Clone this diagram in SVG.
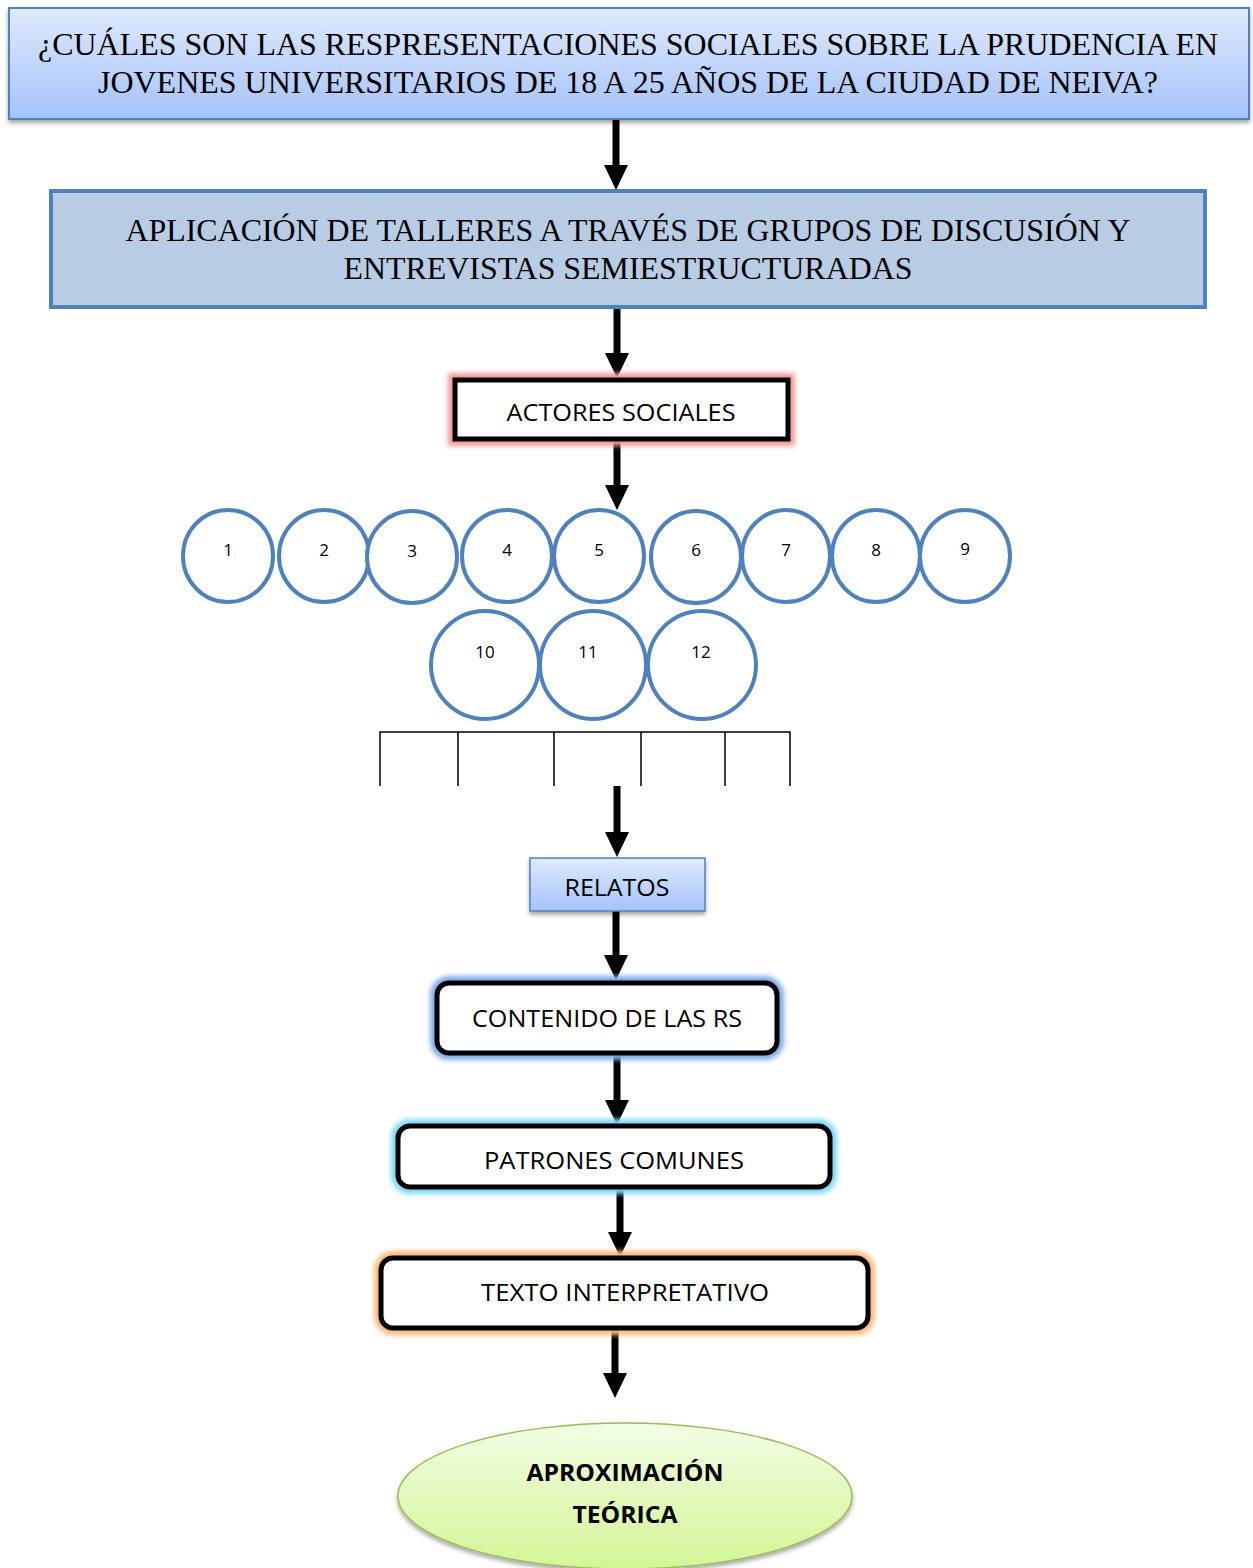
<svg xmlns="http://www.w3.org/2000/svg" width="1253" height="1568" viewBox="0 0 1253 1568">
<style>
.serif{font-family:"Liberation Serif","Times New Roman",serif;font-size:31px;fill:#000}
.sans{font-family:"Open Sans","Liberation Sans",sans-serif;font-size:24px;fill:#000}
.num{font-family:"Open Sans","Liberation Sans",sans-serif;font-size:17px;fill:#000}
.circ{fill:#fff;stroke:#4f81bd;stroke-width:4}
.blk{fill:#fff;stroke:#000;stroke-width:5}
.conn{stroke:#000;stroke-width:7;fill:none}
.thin{stroke:#000;stroke-width:1.5;fill:none}
</style>
<defs>
<linearGradient id="gBlue" x1="0" y1="0" x2="0" y2="1">
<stop offset="0" stop-color="#dfeafd"/>
<stop offset="1" stop-color="#a5c2fa"/>
</linearGradient>
<linearGradient id="gGreen" x1="0" y1="0" x2="0" y2="1">
<stop offset="0" stop-color="#f3fde6"/>
<stop offset="1" stop-color="#d3f595"/>
</linearGradient>
<filter id="shadow" x="-5%" y="-20%" width="110%" height="150%">
<feDropShadow dx="0" dy="3" stdDeviation="2" flood-color="#000" flood-opacity="0.35"/>
</filter>
<filter id="glow" x="-10%" y="-40%" width="120%" height="180%">
<feGaussianBlur stdDeviation="2.5"/>
</filter>
<marker id="ah" viewBox="0 0 25 24" markerWidth="25" markerHeight="24" refX="2" refY="12" orient="auto" markerUnits="userSpaceOnUse">
<path d="M0,0 L25,12 L0,24 z" fill="#000"/>
</marker>
</defs>
<rect width="1253" height="1568" fill="#fff"/>

<g id="connectors">
<line class="conn" x1="616" y1="120" x2="616" y2="167" marker-end="url(#ah)"/>
<line class="conn" x1="617" y1="308" x2="617" y2="355" marker-end="url(#ah)"/>
<line class="conn" x1="617" y1="440" x2="617" y2="487" marker-end="url(#ah)"/>
<path class="thin" d="M380,786 V732 H790 V786 M458,732 V786 M554,732 V786 M641,732 V786 M725,732 V786"/>
<line class="conn" x1="617" y1="786" x2="617" y2="834" marker-end="url(#ah)"/>
<line class="conn" x1="616" y1="911" x2="616" y2="957" marker-end="url(#ah)"/>
<line class="conn" x1="617" y1="1053" x2="617" y2="1102" marker-end="url(#ah)"/>
<line class="conn" x1="620" y1="1187" x2="620" y2="1234" marker-end="url(#ah)"/>
<line class="conn" x1="615" y1="1328" x2="615" y2="1375" marker-end="url(#ah)"/>
</g>

<g id="n-pregunta">
<rect x="9" y="8" width="1240" height="111" fill="url(#gBlue)" stroke="#4f81bd" stroke-width="2" filter="url(#shadow)"/>
<text class="serif" x="628" y="55" text-anchor="middle" textLength="1180" lengthAdjust="spacingAndGlyphs">¿CUÁLES SON LAS RESPRESENTACIONES SOCIALES SOBRE LA PRUDENCIA EN</text>
<text class="serif" x="628" y="93" text-anchor="middle" textLength="1060" lengthAdjust="spacingAndGlyphs">JOVENES UNIVERSITARIOS DE 18 A 25 AÑOS DE LA CIUDAD DE NEIVA?</text>
</g>

<g id="n-aplicacion">
<rect x="51" y="191" width="1154" height="116" fill="#b8cce4" stroke="#4f81bd" stroke-width="4"/>
<text class="serif" x="628" y="241" text-anchor="middle" font-size="32" textLength="1005" lengthAdjust="spacingAndGlyphs">APLICACIÓN DE TALLERES A TRAVÉS DE GRUPOS DE DISCUSIÓN Y</text>
<text class="serif" x="628" y="279" text-anchor="middle" font-size="32" textLength="569" lengthAdjust="spacingAndGlyphs">ENTREVISTAS SEMIESTRUCTURADAS</text>
</g>

<g id="n-actores">
<rect x="455" y="380" width="333" height="59" fill="none" stroke="#f09a9a" stroke-width="14" filter="url(#glow)"/>
<rect class="blk" x="455" y="380" width="333" height="59"/>
<text class="sans" x="621" y="421" text-anchor="middle" textLength="229" lengthAdjust="spacingAndGlyphs">ACTORES SOCIALES</text>
</g>

<g id="n-1"><ellipse class="circ" cx="228" cy="556" rx="45" ry="46"/><text class="num" x="228" y="556" text-anchor="middle">1</text></g>
<g id="n-2"><ellipse class="circ" cx="324" cy="556" rx="45" ry="46"/><text class="num" x="324" y="556" text-anchor="middle">2</text></g>
<g id="n-3"><ellipse class="circ" cx="412" cy="557" rx="45" ry="46"/><text class="num" x="412" y="557" text-anchor="middle">3</text></g>
<g id="n-4"><ellipse class="circ" cx="507" cy="556" rx="45" ry="46"/><text class="num" x="507" y="556" text-anchor="middle">4</text></g>
<g id="n-5"><ellipse class="circ" cx="599" cy="556" rx="45" ry="46"/><text class="num" x="599" y="556" text-anchor="middle">5</text></g>
<g id="n-6"><ellipse class="circ" cx="696" cy="557" rx="45" ry="46"/><text class="num" x="696" y="556" text-anchor="middle">6</text></g>
<g id="n-7"><ellipse class="circ" cx="786" cy="556" rx="44" ry="46"/><text class="num" x="786" y="556" text-anchor="middle">7</text></g>
<g id="n-8"><ellipse class="circ" cx="876" cy="556" rx="44" ry="46"/><text class="num" x="876" y="556" text-anchor="middle">8</text></g>
<g id="n-9"><ellipse class="circ" cx="965" cy="556" rx="45" ry="46"/><text class="num" x="965" y="555" text-anchor="middle">9</text></g>
<g id="n-10"><ellipse class="circ" cx="485" cy="665" rx="54" ry="54"/><text class="num" x="485" y="658" text-anchor="middle">10</text></g>
<g id="n-11"><ellipse class="circ" cx="593" cy="665" rx="53" ry="54"/><text class="num" x="588" y="658" text-anchor="middle">11</text></g>
<g id="n-12"><ellipse class="circ" cx="702" cy="665" rx="54" ry="54"/><text class="num" x="701" y="658" text-anchor="middle">12</text></g>

<g id="n-relatos">
<rect x="530" y="858" width="175" height="53" fill="url(#gBlue)" stroke="#4f81bd" stroke-width="1.5" filter="url(#shadow)"/>
<text class="sans" x="617" y="896" text-anchor="middle" textLength="105" lengthAdjust="spacingAndGlyphs">RELATOS</text>
</g>

<g id="n-contenido">
<rect x="437" y="983" width="340" height="70" rx="12" fill="none" stroke="#80aae6" stroke-width="14" filter="url(#glow)"/>
<rect class="blk" x="437" y="983" width="340" height="70" rx="12"/>
<text class="sans" x="607" y="1027" text-anchor="middle" textLength="270" lengthAdjust="spacingAndGlyphs">CONTENIDO DE LAS RS</text>
</g>

<g id="n-patrones">
<rect x="398" y="1126" width="432" height="61" rx="12" fill="none" stroke="#7ad8f5" stroke-width="14" filter="url(#glow)"/>
<rect class="blk" x="398" y="1126" width="432" height="61" rx="12"/>
<text class="sans" x="614" y="1169" text-anchor="middle" textLength="260" lengthAdjust="spacingAndGlyphs">PATRONES COMUNES</text>
</g>

<g id="n-texto">
<rect x="381" y="1258" width="487" height="70" rx="12" fill="none" stroke="#fbb877" stroke-width="14" filter="url(#glow)"/>
<rect class="blk" x="381" y="1258" width="487" height="70" rx="12"/>
<text class="sans" x="625" y="1301" text-anchor="middle" textLength="288" lengthAdjust="spacingAndGlyphs">TEXTO INTERPRETATIVO</text>
</g>

<g id="n-aproximacion">
<ellipse cx="625" cy="1496" rx="227" ry="73" fill="url(#gGreen)" stroke="#9bbb59" stroke-width="1.5" filter="url(#shadow)"/>
<text class="sans" x="625" y="1481" text-anchor="middle" font-weight="bold" textLength="197" lengthAdjust="spacingAndGlyphs">APROXIMACIÓN</text>
<text class="sans" x="625" y="1523" text-anchor="middle" font-weight="bold" textLength="105" lengthAdjust="spacingAndGlyphs">TEÓRICA</text>
</g>
</svg>
